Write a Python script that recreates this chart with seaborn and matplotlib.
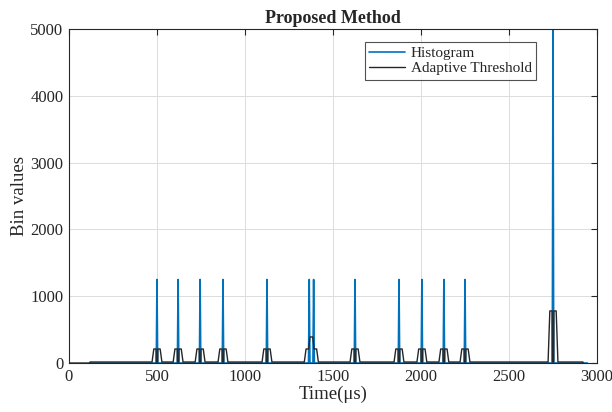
import numpy as np
import pandas as pd
import matplotlib
matplotlib.use("Agg")
import matplotlib.pyplot as plt
import seaborn as sns

# ---- data ----
peak_times = [500, 620, 745, 875, 1125, 1365, 1390, 1625, 1875, 2005, 2130, 2250, 2750]
peak_heights = [1250, 1250, 1250, 1250, 1250, 1250, 1250, 1250, 1250, 1250, 1250, 1250, 5000]
thr_centers = [500, 620, 745, 875, 1125, 1377, 1625, 1875, 2005, 2130, 2250, 2750]
thr_levels = [210, 210, 210, 210, 210, 210, 210, 210, 210, 210, 210, 780]
thr_mid_level = [None, None, None, None, None, 390, None, None, None, None, None, None]
hist_start, hist_end = 120, 2945
thr_start, thr_end = 120, 2920
thr_base = 15

# ---- build line series ----
ht, hv = [hist_start], [0]
for t, h in zip(peak_times, peak_heights):
    ht += [t - 4, t, t + 4]
    hv += [0, h, 0]
ht.append(hist_end); hv.append(0)
hist = pd.DataFrame({"t": ht, "v": hv, "s": "Histogram"})

tt, tv = [0, thr_start - 5, thr_start], [0, 0, thr_base]
for c, lv, mid in zip(thr_centers, thr_levels, thr_mid_level):
    if mid is None:
        w_out, w_in, notch = 28, 18, 5
        tt += [c - w_out, c - w_in, c - notch, c - notch + 1, c + notch - 1, c + notch, c + w_in, c + w_out]
        tv += [thr_base, lv, lv, thr_base, thr_base, lv, lv, thr_base]
    else:
        w_out, w_in = 40, 30
        tt += [c - w_out, c - w_in, c - 15, c - 8, c, c + 8, c + 15, c + w_in, c + w_out]
        tv += [thr_base, lv, lv, mid, mid, mid, lv, lv, thr_base]
tt += [thr_end, thr_end + 1]
tv += [thr_base, 0]
thr = pd.DataFrame({"t": tt, "v": tv, "s": "Adaptive Threshold"})

# ---- plot ----
sns.set_style("white")
plt.rcParams["font.family"] = ["Liberation Serif", "DejaVu Serif"]
plt.rcParams["mathtext.fontset"] = "stix"

fig = plt.figure(figsize=(6.12, 4.12), dpi=100)
ax = fig.add_axes([0.1127, 0.1189, 0.8628, 0.8107])

sns.lineplot(data=hist, x="t", y="v", ax=ax, color="#0072BD", lw=1.2,
             label="Histogram", sort=False, estimator=None)
sns.lineplot(data=thr, x="t", y="v", ax=ax, color="#262626", lw=1.0,
             label="Adaptive Threshold", sort=False, estimator=None)

ax.set_xlim(0, 3000)
ax.set_ylim(0, 5000)
ax.set_xticks(np.arange(0, 3001, 500))
ax.set_yticks(np.arange(0, 5001, 1000))
ax.grid(True, color="#dcdcdc", lw=0.7)
ax.set_axisbelow(True)
ax.tick_params(direction="in", top=True, right=True, length=4, width=0.8,
               labelsize=12, colors="#262626", pad=4)
for sp in ax.spines.values():
    sp.set_color("#262626")
    sp.set_linewidth(0.8)
ax.set_xlabel("Time(μs)", fontsize=13.5, color="#262626", labelpad=1)
ax.set_ylabel("Bin values", fontsize=13.5, color="#262626", labelpad=2)
ax.set_title("Proposed Method", fontsize=13, fontweight="bold", pad=4)

leg = ax.legend(loc="upper right", bbox_to_anchor=(0.885, 0.962), fontsize=11,
                frameon=True, fancybox=False, edgecolor="#262626",
                handlelength=2.3, handletextpad=0.4, borderpad=0.3,
                labelspacing=0.1, borderaxespad=0)
leg.get_frame().set_linewidth(0.8)

fig.savefig("out.png", dpi=100)
